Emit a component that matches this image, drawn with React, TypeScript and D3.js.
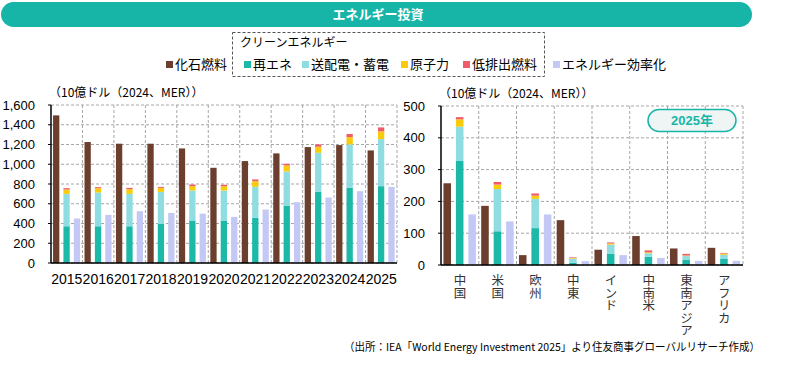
import React from 'react';
import * as d3 from 'd3';

const years = ['2015', '2016', '2017', '2018', '2019', '2020', '2021', '2022', '2023', '2024', '2025'];
const fossilYears = [1495, 1225, 1208, 1208, 1160, 964, 1032, 1110, 1174, 1194, 1140];
const renewYears = [372, 372, 372, 396, 430, 430, 457, 582, 720, 761, 778];
const gridYears = [328, 342, 328, 324, 304, 304, 314, 345, 396, 440, 477];
const nuclearYears = [44, 44, 48, 41, 44, 44, 58, 61, 61, 74, 78];
const lowYears = [14, 10, 13, 10, 17, 14, 17, 17, 24, 31, 40];
const effYears = [450, 487, 524, 507, 500, 467, 541, 616, 663, 727, 771];
const leftTicks = [0, 200, 400, 600, 800, 1000, 1200, 1400, 1600];

const regions = ['中国', '米国', '欧州', '中東', 'インド', '中南米', '東南アジア', 'アフリカ'];
const fossilReg = [257, 186, 31, 141, 48, 91, 52, 54];
const renewReg = [327, 106, 116, 7, 36, 26, 17, 19];
const gridReg = [108, 133, 92, 13, 28, 11, 11, 13];
const nuclearReg = [23, 14, 10, 2, 4, 3, 2, 4];
const lowReg = [7, 8, 7, 2, 3, 6, 5, 2];
const effReg = [159, 137, 159, 12, 31, 22, 13, 13];
const rightTicks = [0, 100, 200, 300, 400, 500];

const C = {
  fossil: '#6B3E2E',
  renew: '#1CB8A8',
  grid: '#8FDDE0',
  nuclear: '#FACB0C',
  low: '#EE5C6C',
  eff: '#C3C9F4',
  teal: '#17B5A8',
};

const FONT = '"Liberation Sans", Arial, "Noto Sans CJK JP", sans-serif';
const JFONT = '"Noto Sans CJK JP", "Liberation Sans", sans-serif';

const keys = ['renew', 'grid', 'nuclear', 'low'];
const keyColors: Record<string, string> = { renew: C.renew, grid: C.grid, nuclear: C.nuclear, low: C.low };

function Panel({ cats, fossil, renew, grid, nuclear, low, eff, ticks, x0, x1, y0, y1, labelMode }: any) {
  const x = d3.scaleBand<string>().domain(cats).range([x0, x1]).padding(0);
  const y = d3.scaleLinear().domain([0, ticks[ticks.length - 1]]).range([y1, y0]);
  const bw = x.bandwidth();
  const barW = bw * 0.2;
  const rows = cats.map((c: string, i: number) => ({ cat: c, renew: renew[i], grid: grid[i], nuclear: nuclear[i], low: low[i] }));
  const stacked = d3.stack<any>().keys(keys)(rows);
  const fmt = d3.format(',');
  return (
    <g>
      {ticks.map((t: number) => (
        <line key={'h' + t} x1={x0} x2={x1} y1={y(t)} y2={y(t)} stroke="#A6A6A6" strokeWidth={1} strokeDasharray="3,2" />
      ))}
      {cats.map((c: string) => (
        <line key={'v' + c} x1={(x(c) as number) + bw} x2={(x(c) as number) + bw} y1={y0} y2={y1} stroke="#A6A6A6" strokeWidth={1} strokeDasharray="3,2" />
      ))}
      {cats.map((c: string, i: number) => {
        const bx = x(c) as number;
        return (
          <g key={'b' + c}>
            <rect x={bx + bw * 0.165 - barW / 2} y={y(fossil[i])} width={barW} height={y(0) - y(fossil[i])} fill={C.fossil} />
            <rect x={bx + bw * 0.825 - barW / 2} y={y(eff[i])} width={barW} height={y(0) - y(eff[i])} fill={C.eff} />
          </g>
        );
      })}
      {stacked.map((s: any) => (
        <g key={s.key} fill={keyColors[s.key]}>
          {s.map((d: any, i: number) => (
            <rect key={i} x={(x(cats[i]) as number) + bw * 0.495 - barW / 2} y={y(d[1])} width={barW} height={y(d[0]) - y(d[1])} />
          ))}
        </g>
      ))}
      <line x1={x0} x2={x0} y1={y0} y2={y1} stroke="#000" strokeWidth={1.5} />
      <line x1={x0} x2={x1} y1={y1} y2={y1} stroke="#000" strokeWidth={1.5} />
      {ticks.map((t: number) => (
        <line key={'tk' + t} x1={x0 - 3} x2={x0} y1={y(t)} y2={y(t)} stroke="#000" strokeWidth={1} />
      ))}
      {ticks.map((t: number) => (
        <text key={'tl' + t} x={x0 - 16} y={y(t)} dy="0.35em" textAnchor="end" fontSize={13} fontFamily={FONT} fill="#000">
          {fmt(t)}
        </text>
      ))}
      <text x={x0 - 2} y={y0 - 8} fontSize={12} fontFamily={JFONT} fill="#000">（10億ドル（2024、MER））</text>
      {labelMode === 'years'
        ? cats.map((c: string) => (
            <text key={'c' + c} x={(x(c) as number) + bw / 2} y={y1 + 21} textAnchor="middle" fontSize={14} fontFamily={FONT} fill="#000">
              {c}
            </text>
          ))
        : cats.map((c: string) => (
            <text key={'c' + c} x={(x(c) as number) + bw / 2} y={y1 + 9} writingMode="vertical-rl" style={{ writingMode: 'vertical-rl' } as any}
              fontSize={12.5} fontFamily={JFONT} fill="#333">
              {c}
            </text>
          ))}
    </g>
  );
}

export default function App() {
  const legendItems = [
    { label: '化石燃料', color: C.fossil, x: 166 },
    { label: '再エネ', color: C.renew, x: 244 },
    { label: '送配電・蓄電', color: C.grid, x: 302 },
    { label: '原子力', color: C.nuclear, x: 401 },
    { label: '低排出燃料', color: C.low, x: 463 },
    { label: 'エネルギー効率化', color: C.eff, x: 553 },
  ];
  return (
    <svg width={793} height={369} style={{ position: 'absolute', left: 0, top: 0, background: '#fff' }}>
      <rect x={1} y={2} width={751} height={25} rx={12.5} fill={C.teal} />
      <text x={378} y={19} textAnchor="middle" fontSize={13} fontWeight="bold" fontFamily={JFONT} fill="#fff">エネルギー投資</text>

      <rect x={232.5} y={32.5} width={312} height={44} fill="none" stroke="#555" strokeWidth={1} strokeDasharray="3,2" />
      <text x={240} y={47} fontSize={12} fontFamily={JFONT} fill="#000">クリーンエネルギー</text>
      {legendItems.map((it) => (
        <g key={it.label}>
          <rect x={it.x} y={61} width={7} height={7} fill={it.color} />
          <text x={it.x + 9} y={69} fontSize={13} fontFamily={JFONT} fill="#000">{it.label}</text>
        </g>
      ))}

      <Panel cats={years} fossil={fossilYears} renew={renewYears} grid={gridYears} nuclear={nuclearYears} low={lowYears} eff={effYears}
        ticks={leftTicks} x0={51} x1={397} y0={105} y1={263} labelMode="years" />
      <Panel cats={regions} fossil={fossilReg} renew={renewReg} grid={gridReg} nuclear={nuclearReg} low={lowReg} eff={effReg}
        ticks={rightTicks} x0={441} x1={743} y0={106} y1={265} labelMode="regions" />

      <rect x={648} y={109.5} width={88} height={22} rx={11} fill="#EFF5F4" stroke={C.teal} strokeWidth={1.5} />
      <text x={692} y={125} textAnchor="middle" fontSize={13} fontWeight="bold" fontFamily={FONT} fill={C.teal}>2025年</text>

      <text x={344} y={351} fontSize={11} fontFamily={JFONT} fill="#000" textLength={416} lengthAdjust="spacingAndGlyphs">（出所：IEA「World Energy Investment 2025」より住友商事グローバルリサーチ作成）</text>
    </svg>
  );
}
